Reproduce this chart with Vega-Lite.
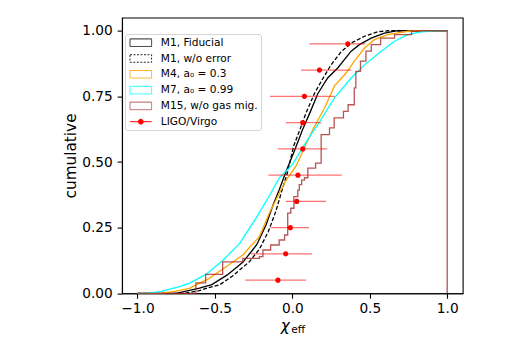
{
  "$schema": "https://vega.github.io/schema/vega-lite/v6.json",
  "width": 340.7,
  "height": 275.7,
  "autosize": {"type": "none"},
  "padding": {"left": 122, "top": 17.6, "right": 55.3, "bottom": 51.7},
  "background": "white",
  "config": {
    "font": "DejaVu Sans",
    "view": {"stroke": "black", "strokeWidth": 1.1},
    "axis": {
      "domainColor": "black", "domainWidth": 1.1,
      "tickColor": "black", "tickWidth": 1.1, "tickSize": 4.9,
      "labelFont": "DejaVu Sans", "labelFontSize": 13.7, "labelColor": "black",
      "titleFont": "DejaVu Sans", "titleFontWeight": "normal", "titleColor": "black",
      "grid": false
    }
  },
  "datasets": {
    "curves": [
      {"s": "M1, Fiducial", "i": 0, "x": -1, "y": 0},
      {"s": "M1, Fiducial", "i": 1, "x": -0.75, "y": 0},
      {"s": "M1, Fiducial", "i": 2, "x": -0.6, "y": 0.02},
      {"s": "M1, Fiducial", "i": 3, "x": -0.52, "y": 0.033},
      {"s": "M1, Fiducial", "i": 4, "x": -0.42, "y": 0.07},
      {"s": "M1, Fiducial", "i": 5, "x": -0.32, "y": 0.118},
      {"s": "M1, Fiducial", "i": 6, "x": -0.23, "y": 0.185},
      {"s": "M1, Fiducial", "i": 7, "x": -0.17, "y": 0.26},
      {"s": "M1, Fiducial", "i": 8, "x": -0.125, "y": 0.335},
      {"s": "M1, Fiducial", "i": 9, "x": -0.084, "y": 0.395},
      {"s": "M1, Fiducial", "i": 10, "x": -0.04, "y": 0.465},
      {"s": "M1, Fiducial", "i": 11, "x": 0.018, "y": 0.55},
      {"s": "M1, Fiducial", "i": 12, "x": 0.067, "y": 0.625},
      {"s": "M1, Fiducial", "i": 13, "x": 0.115, "y": 0.69},
      {"s": "M1, Fiducial", "i": 14, "x": 0.164, "y": 0.76},
      {"s": "M1, Fiducial", "i": 15, "x": 0.228, "y": 0.82},
      {"s": "M1, Fiducial", "i": 16, "x": 0.293, "y": 0.858},
      {"s": "M1, Fiducial", "i": 17, "x": 0.336, "y": 0.89},
      {"s": "M1, Fiducial", "i": 18, "x": 0.38, "y": 0.922},
      {"s": "M1, Fiducial", "i": 19, "x": 0.433, "y": 0.947},
      {"s": "M1, Fiducial", "i": 20, "x": 0.509, "y": 0.972},
      {"s": "M1, Fiducial", "i": 21, "x": 0.595, "y": 0.991},
      {"s": "M1, Fiducial", "i": 22, "x": 0.68, "y": 1},
      {"s": "M1, Fiducial", "i": 23, "x": 1, "y": 1},

      {"s": "M1, w/o error", "i": 0, "x": -1, "y": 0},
      {"s": "M1, w/o error", "i": 1, "x": -0.7, "y": 0},
      {"s": "M1, w/o error", "i": 2, "x": -0.6, "y": 0.01},
      {"s": "M1, w/o error", "i": 3, "x": -0.55, "y": 0.02},
      {"s": "M1, w/o error", "i": 4, "x": -0.47, "y": 0.032},
      {"s": "M1, w/o error", "i": 5, "x": -0.386, "y": 0.066},
      {"s": "M1, w/o error", "i": 6, "x": -0.278, "y": 0.12},
      {"s": "M1, w/o error", "i": 7, "x": -0.213, "y": 0.168},
      {"s": "M1, w/o error", "i": 8, "x": -0.155, "y": 0.235},
      {"s": "M1, w/o error", "i": 9, "x": -0.108, "y": 0.31},
      {"s": "M1, w/o error", "i": 10, "x": -0.068, "y": 0.39},
      {"s": "M1, w/o error", "i": 11, "x": -0.03, "y": 0.463},
      {"s": "M1, w/o error", "i": 12, "x": 0.008, "y": 0.56},
      {"s": "M1, w/o error", "i": 13, "x": 0.05, "y": 0.625},
      {"s": "M1, w/o error", "i": 14, "x": 0.087, "y": 0.685},
      {"s": "M1, w/o error", "i": 15, "x": 0.142, "y": 0.76},
      {"s": "M1, w/o error", "i": 16, "x": 0.186, "y": 0.807},
      {"s": "M1, w/o error", "i": 17, "x": 0.25, "y": 0.87},
      {"s": "M1, w/o error", "i": 18, "x": 0.315, "y": 0.92},
      {"s": "M1, w/o error", "i": 19, "x": 0.38, "y": 0.953},
      {"s": "M1, w/o error", "i": 20, "x": 0.466, "y": 0.979},
      {"s": "M1, w/o error", "i": 21, "x": 0.552, "y": 0.996},
      {"s": "M1, w/o error", "i": 22, "x": 0.62, "y": 1},
      {"s": "M1, w/o error", "i": 23, "x": 1, "y": 1},

      {"s": "M4, a₀ = 0.3", "i": 0, "x": -1, "y": 0},
      {"s": "M4, a₀ = 0.3", "i": 1, "x": -0.85, "y": 0},
      {"s": "M4, a₀ = 0.3", "i": 2, "x": -0.75, "y": 0.008},
      {"s": "M4, a₀ = 0.3", "i": 3, "x": -0.666, "y": 0.019},
      {"s": "M4, a₀ = 0.3", "i": 4, "x": -0.537, "y": 0.057},
      {"s": "M4, a₀ = 0.3", "i": 5, "x": -0.43, "y": 0.1},
      {"s": "M4, a₀ = 0.3", "i": 6, "x": -0.32, "y": 0.146},
      {"s": "M4, a₀ = 0.3", "i": 7, "x": -0.213, "y": 0.216},
      {"s": "M4, a₀ = 0.3", "i": 8, "x": -0.149, "y": 0.305},
      {"s": "M4, a₀ = 0.3", "i": 9, "x": -0.084, "y": 0.381},
      {"s": "M4, a₀ = 0.3", "i": 10, "x": -0.04, "y": 0.431},
      {"s": "M4, a₀ = 0.3", "i": 11, "x": 0.024, "y": 0.485},
      {"s": "M4, a₀ = 0.3", "i": 12, "x": 0.131, "y": 0.622},
      {"s": "M4, a₀ = 0.3", "i": 13, "x": 0.207, "y": 0.705},
      {"s": "M4, a₀ = 0.3", "i": 14, "x": 0.272, "y": 0.79},
      {"s": "M4, a₀ = 0.3", "i": 15, "x": 0.347, "y": 0.839},
      {"s": "M4, a₀ = 0.3", "i": 16, "x": 0.401, "y": 0.884},
      {"s": "M4, a₀ = 0.3", "i": 17, "x": 0.466, "y": 0.934},
      {"s": "M4, a₀ = 0.3", "i": 18, "x": 0.53, "y": 0.966},
      {"s": "M4, a₀ = 0.3", "i": 19, "x": 0.616, "y": 0.985},
      {"s": "M4, a₀ = 0.3", "i": 20, "x": 0.746, "y": 0.998},
      {"s": "M4, a₀ = 0.3", "i": 21, "x": 0.82, "y": 1},
      {"s": "M4, a₀ = 0.3", "i": 22, "x": 1, "y": 1},

      {"s": "M7, a₀ = 0.99", "i": 0, "x": -1, "y": 0},
      {"s": "M7, a₀ = 0.99", "i": 1, "x": -0.95, "y": 0},
      {"s": "M7, a₀ = 0.99", "i": 2, "x": -0.85, "y": 0.006},
      {"s": "M7, a₀ = 0.99", "i": 3, "x": -0.73, "y": 0.025},
      {"s": "M7, a₀ = 0.99", "i": 4, "x": -0.666, "y": 0.038},
      {"s": "M7, a₀ = 0.99", "i": 5, "x": -0.558, "y": 0.072},
      {"s": "M7, a₀ = 0.99", "i": 6, "x": -0.45, "y": 0.125},
      {"s": "M7, a₀ = 0.99", "i": 7, "x": -0.34, "y": 0.19},
      {"s": "M7, a₀ = 0.99", "i": 8, "x": -0.23, "y": 0.29},
      {"s": "M7, a₀ = 0.99", "i": 9, "x": -0.14, "y": 0.38},
      {"s": "M7, a₀ = 0.99", "i": 10, "x": -0.084, "y": 0.44},
      {"s": "M7, a₀ = 0.99", "i": 11, "x": 0.0, "y": 0.49},
      {"s": "M7, a₀ = 0.99", "i": 12, "x": 0.11, "y": 0.596},
      {"s": "M7, a₀ = 0.99", "i": 13, "x": 0.164, "y": 0.642},
      {"s": "M7, a₀ = 0.99", "i": 14, "x": 0.272, "y": 0.744},
      {"s": "M7, a₀ = 0.99", "i": 15, "x": 0.38, "y": 0.82},
      {"s": "M7, a₀ = 0.99", "i": 16, "x": 0.466, "y": 0.87},
      {"s": "M7, a₀ = 0.99", "i": 17, "x": 0.574, "y": 0.922},
      {"s": "M7, a₀ = 0.99", "i": 18, "x": 0.66, "y": 0.96},
      {"s": "M7, a₀ = 0.99", "i": 19, "x": 0.746, "y": 0.985},
      {"s": "M7, a₀ = 0.99", "i": 20, "x": 0.832, "y": 0.996},
      {"s": "M7, a₀ = 0.99", "i": 21, "x": 0.93, "y": 1},
      {"s": "M7, a₀ = 0.99", "i": 22, "x": 1, "y": 1},

      {"s": "M15, w/o gas mig.", "i": 0, "x": -1, "y": 0},
      {"s": "M15, w/o gas mig.", "i": 1, "x": -0.623, "y": 0.04},
      {"s": "M15, w/o gas mig.", "i": 2, "x": -0.56, "y": 0.072},
      {"s": "M15, w/o gas mig.", "i": 3, "x": -0.45, "y": 0.12},
      {"s": "M15, w/o gas mig.", "i": 4, "x": -0.32, "y": 0.133},
      {"s": "M15, w/o gas mig.", "i": 5, "x": -0.213, "y": 0.14},
      {"s": "M15, w/o gas mig.", "i": 6, "x": -0.19, "y": 0.165},
      {"s": "M15, w/o gas mig.", "i": 7, "x": -0.14, "y": 0.184},
      {"s": "M15, w/o gas mig.", "i": 8, "x": -0.085, "y": 0.203},
      {"s": "M15, w/o gas mig.", "i": 9, "x": -0.05, "y": 0.222},
      {"s": "M15, w/o gas mig.", "i": 10, "x": -0.03, "y": 0.305},
      {"s": "M15, w/o gas mig.", "i": 11, "x": -0.01, "y": 0.324},
      {"s": "M15, w/o gas mig.", "i": 12, "x": 0.01, "y": 0.368},
      {"s": "M15, w/o gas mig.", "i": 13, "x": 0.035, "y": 0.393},
      {"s": "M15, w/o gas mig.", "i": 14, "x": 0.045, "y": 0.414},
      {"s": "M15, w/o gas mig.", "i": 15, "x": 0.06, "y": 0.431},
      {"s": "M15, w/o gas mig.", "i": 16, "x": 0.078, "y": 0.44},
      {"s": "M15, w/o gas mig.", "i": 17, "x": 0.1, "y": 0.477},
      {"s": "M15, w/o gas mig.", "i": 18, "x": 0.15, "y": 0.496},
      {"s": "M15, w/o gas mig.", "i": 19, "x": 0.186, "y": 0.604},
      {"s": "M15, w/o gas mig.", "i": 20, "x": 0.24, "y": 0.63},
      {"s": "M15, w/o gas mig.", "i": 21, "x": 0.27, "y": 0.668},
      {"s": "M15, w/o gas mig.", "i": 22, "x": 0.33, "y": 0.693},
      {"s": "M15, w/o gas mig.", "i": 23, "x": 0.36, "y": 0.718},
      {"s": "M15, w/o gas mig.", "i": 24, "x": 0.4, "y": 0.782},
      {"s": "M15, w/o gas mig.", "i": 25, "x": 0.41, "y": 0.845},
      {"s": "M15, w/o gas mig.", "i": 26, "x": 0.44, "y": 0.884},
      {"s": "M15, w/o gas mig.", "i": 27, "x": 0.475, "y": 0.922},
      {"s": "M15, w/o gas mig.", "i": 28, "x": 0.51, "y": 0.947},
      {"s": "M15, w/o gas mig.", "i": 29, "x": 0.57, "y": 0.972},
      {"s": "M15, w/o gas mig.", "i": 30, "x": 0.66, "y": 0.985},
      {"s": "M15, w/o gas mig.", "i": 31, "x": 0.77, "y": 0.998},
      {"s": "M15, w/o gas mig.", "i": 32, "x": 0.81, "y": 1},
      {"s": "M15, w/o gas mig.", "i": 33, "x": 1, "y": 1},
      {"s": "M15, w/o gas mig.", "i": 34, "x": 1, "y": 0}
    ],
    "ligo": [
      {"s": "LIGO/Virgo", "y": 0.05, "x": -0.093, "lo": -0.304, "hi": 0.089},
      {"s": "LIGO/Virgo", "y": 0.15, "x": -0.043, "lo": -0.267, "hi": 0.127},
      {"s": "LIGO/Virgo", "y": 0.25, "x": -0.013, "lo": -0.142, "hi": 0.108},
      {"s": "LIGO/Virgo", "y": 0.35, "x": 0.028, "lo": -0.043, "hi": 0.218},
      {"s": "LIGO/Virgo", "y": 0.45, "x": 0.036, "lo": -0.155, "hi": 0.319},
      {"s": "LIGO/Virgo", "y": 0.55, "x": 0.067, "lo": -0.095, "hi": 0.226},
      {"s": "LIGO/Virgo", "y": 0.65, "x": 0.067, "lo": -0.042, "hi": 0.186},
      {"s": "LIGO/Virgo", "y": 0.75, "x": 0.078, "lo": -0.144, "hi": 0.275},
      {"s": "LIGO/Virgo", "y": 0.85, "x": 0.175, "lo": 0.056, "hi": 0.38},
      {"s": "LIGO/Virgo", "y": 0.95, "x": 0.358, "lo": 0.11, "hi": 0.47}
    ]
  },
  "resolve": {"axis": {"x": "independent"}},
  "encoding": {
    "x": {"field": "x", "type": "quantitative", "scale": {"domain": [-1.1, 1.1], "nice": false, "zero": false}, "axis": null},
    "y": {
      "field": "y", "type": "quantitative",
      "scale": {"domain": [0, 1.05], "nice": false, "zero": false},
      "axis": {"title": "cumulative", "values": [0, 0.25, 0.5, 0.75, 1], "format": ".2f", "labelPadding": 4.9, "titleFontSize": 15.3, "titleBaseline": "alphabetic", "titlePadding": 6.5}
    },
    "color": {
      "field": "s", "type": "nominal",
      "scale": {
        "domain": ["M1, Fiducial", "M1, w/o error", "M4, a₀ = 0.3", "M7, a₀ = 0.99", "M15, w/o gas mig.", "LIGO/Virgo"],
        "range": ["black", "black", "orange", "cyan", "brown", "red"]
      },
      "legend": {
        "title": null,
        "orient": "none", "legendX": 3, "legendY": 16.4,
        "symbolType": "M-2,-0.7H2V0.7H-2Z",
        "symbolSize": 116.6,
        "symbolStrokeWidth": 1,
        "symbolOffset": 7.1,
        "labelOffset": 14,
        "rowPadding": 3.8,
        "padding": 2.7,
        "labelFont": "DejaVu Sans", "labelFontSize": 10.6, "labelColor": "black", "labelLimit": 300,
        "strokeColor": "#d5d5d5", "fillColor": "rgba(255,255,255,0.8)", "cornerRadius": 2.5,
        "encode": {
          "symbols": {
            "update": {
              "shape": {"signal": "datum.value === 'LIGO/Virgo' ? 'M-2,0H2M-0.46,0A0.46,0.46 0 1,1 0.46,0A0.46,0.46 0 1,1 -0.46,0' : 'M-2,-0.7H2V0.7H-2Z'"},
              "fill": {"signal": "datum.value === 'LIGO/Virgo' ? 'red' : 'white'"},
              "fillOpacity": {"signal": "datum.value === 'LIGO/Virgo' ? 1 : 0"},
              "stroke": {"scale": "color", "field": "value"},
              "strokeDash": {"signal": "datum.value === 'M1, w/o error' ? [2, 1.5] : [1, 0]"},
              "strokeWidth": {"value": 1},
              "opacity": {"signal": "datum.value === 'M15, w/o gas mig.' ? 0.75 : (datum.value === 'LIGO/Virgo' ? 1 : 0.85)"}
            }
          }
        }
      }
    }
  },
  "layer": [
    {
      "data": {"name": "curves"},
      "transform": [{"filter": "datum.s === 'M1, Fiducial'"}],
      "mark": {"type": "line", "strokeWidth": 1.3, "interpolate": "linear"},
      "encoding": {
        "x": {
          "field": "x", "type": "quantitative",
          "scale": {"domain": [-1.1, 1.1], "nice": false, "zero": false},
          "axis": {
            "title": "χ", "values": [-1, -0.5, 0, 0.5, 1], "format": ".1f", "labelPadding": 3,
            "titleFontStyle": "italic", "titleFontSize": 15.3, "titleX": 162.7, "titleY": 36.8,
            "titleAlign": "center", "titleBaseline": "alphabetic", "orient": "bottom"
          }
        },
        "order": {"field": "i", "type": "quantitative"}
      }
    },
    {
      "data": {"name": "curves"},
      "transform": [{"filter": "datum.s === 'M1, w/o error'"}],
      "mark": {"type": "line", "strokeWidth": 1.3, "strokeDash": [4, 2], "interpolate": "linear"},
      "encoding": {"order": {"field": "i", "type": "quantitative"}}
    },
    {
      "data": {"name": "curves"},
      "transform": [{"filter": "datum.s === 'M4, a₀ = 0.3'"}],
      "mark": {"type": "line", "strokeWidth": 1.3, "interpolate": "linear"},
      "encoding": {"order": {"field": "i", "type": "quantitative"}}
    },
    {
      "data": {"name": "curves"},
      "transform": [{"filter": "datum.s === 'M7, a₀ = 0.99'"}],
      "mark": {"type": "line", "strokeWidth": 1.3, "interpolate": "linear"},
      "encoding": {"order": {"field": "i", "type": "quantitative"}}
    },
    {
      "data": {"name": "curves"},
      "transform": [{"filter": "datum.s === 'M15, w/o gas mig.'"}],
      "mark": {"type": "line", "strokeWidth": 1.3, "interpolate": "step-after", "opacity": 0.8},
      "encoding": {"order": {"field": "i", "type": "quantitative"}}
    },
    {
      "data": {"name": "ligo"},
      "mark": {"type": "rule", "strokeWidth": 1.4, "opacity": 0.55},
      "encoding": {
        "x": {
          "field": "lo", "type": "quantitative",
          "scale": {"domain": [-1.1, 1.1], "nice": false, "zero": false},
          "axis": {
            "title": "eff", "labels": false, "ticks": false, "domain": false, "orient": "bottom",
            "titleFontSize": 10.7, "titleX": 168.7, "titleY": 39.4,
            "titleAlign": "left", "titleBaseline": "alphabetic"
          }
        },
        "x2": {"field": "hi"}
      }
    },
    {
      "data": {"name": "ligo"},
      "mark": {"type": "circle", "size": 26, "opacity": 1},
      "encoding": {}
    }
  ]
}
